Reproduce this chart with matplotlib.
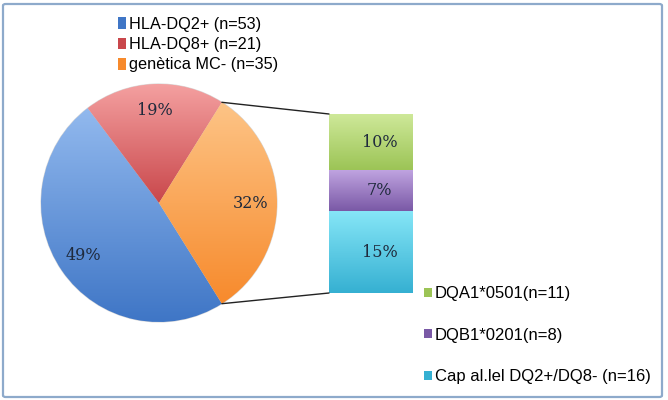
import numpy as np
import matplotlib
matplotlib.use('Agg')
import matplotlib.pyplot as plt
from matplotlib.patches import Patch, FancyBboxPatch, ConnectionPatch
from matplotlib.colors import to_rgb

# dades
pie_labels = ['HLA-DQ2+ (n=53)', 'HLA-DQ8+ (n=21)', 'genètica MC- (n=35)']
pie_n = [53, 21, 35]
bar_labels = ['DQA1*0501(n=11)', 'DQB1*0201(n=8)', 'Cap al.lel DQ2+/DQ8- (n=16)']
bar_n = [11, 8, 16]

pie_colors = [('#92b9ee', '#3f76c6'), ('#f4a0a0', '#c9474b'), ('#fdc486', '#f78a2c')]
bar_colors = [('#cfe99a', '#9cc456'), ('#bfa3e0', '#7a59a6'), ('#86e6f7', '#35b0d2')]

total = sum(pie_n)

plt.rcParams['font.family'] = ['Liberation Sans', 'DejaVu Sans']

fig = plt.figure(figsize=(6.68, 4.0), dpi=100)
W, H = 668, 400


def px_axes(x0, y0, x1, y1):
    # posicio en pixels (origen a dalt)
    return fig.add_axes([x0 / W, 1 - y1 / H, (x1 - x0) / W, (y1 - y0) / H])


def gradient(ax, patch, top, bottom, ext):
    t = np.linspace(0, 1, 128)[:, None]
    c0, c1 = np.array(to_rgb(top)), np.array(to_rgb(bottom))
    img = (c0 * (1 - t) + c1 * t)[:, None, :]
    im = ax.imshow(img, extent=ext, origin='upper', aspect='auto',
                   interpolation='bilinear', zorder=patch.get_zorder() + 0.1)
    im.set_clip_path(patch)


# marc
fig.patches.append(FancyBboxPatch((3 / W, 3 / H), 659 / W, 393 / H,
                                  boxstyle='round,pad=0,rounding_size=0.004',
                                  transform=fig.transFigure, fill=False,
                                  edgecolor='#8eaacb', linewidth=1.6))

# pastis
ax = px_axes(159 - 118, 203 - 119, 159 + 118, 203 + 119)
start = -pie_n[2] / total * 180
wedges, texts, autotexts = ax.pie(pie_n, colors=[c[0] for c in pie_colors],
                                  startangle=start, counterclock=False,
                                  autopct='%.0f%%', pctdistance=0.78,
                                  wedgeprops=dict(edgecolor='#d8d8d8', linewidth=0.8))
for w, (c0, c1) in zip(wedges, pie_colors):
    b = w.get_path().get_extents()
    gradient(ax, w, c0, c1, (b.x0, b.x1, b.y0, b.y1))
for t in autotexts:
    t.set_family(['DejaVu Serif'])
    t.set_fontsize(11.5)
    t.set_color('#1f2a3c')
    t.set_zorder(5)
ax.set_xlim(-1, 1)
ax.set_ylim(-1, 1)
ax.set_aspect('auto')
ax.axis('off')

# barra
bx = px_axes(329, 114, 413, 293)
bottom = 0
order = [2, 1, 0]
bar_pct = [n / total * 100 for n in bar_n]
for i in order:
    r = bx.bar(0, bar_pct[i], bottom=bottom, width=1, color=bar_colors[i][0])[0]
    gradient(bx, r, bar_colors[i][0], bar_colors[i][1],
             (-0.5, 0.5, bottom, bottom + bar_pct[i]))
    bx.text(0.1, bottom + bar_pct[i] / 2, f'{bar_pct[i]:.0f}%', ha='center', va='center',
            family=['DejaVu Serif'], fontsize=11.5, color='#1f2a3c', zorder=5)
    bottom += bar_pct[i]
bx.set_xlim(-0.5, 0.5)
bx.set_ylim(0, bottom)
bx.axis('off')

# linies d'unio
ang_top = np.deg2rad(-start)
ang_bot = np.deg2rad(start)
for ang, yb in [(ang_top, bottom), (ang_bot, 0)]:
    con = ConnectionPatch(xyA=(np.cos(ang), np.sin(ang)), coordsA=ax.transData,
                          xyB=(-0.5, yb), coordsB=bx.transData,
                          color='#222222', linewidth=1.0)
    fig.add_artist(con)

# llegendes
h1 = [Patch(facecolor=c[1], edgecolor='none') for c in pie_colors]
fig.legend(h1, pie_labels, loc='upper left', bbox_to_anchor=(118 / W, 1 - 17 / H),
           frameon=False, fontsize=11.7, handlelength=0.5, handleheight=0.75,
           handletextpad=0.2, labelspacing=0.32, borderaxespad=0, borderpad=0)

h2 = [Patch(facecolor=c[1], edgecolor='none') for c in bar_colors]
fig.legend(h2, bar_labels, loc='upper left', bbox_to_anchor=(424 / W, 1 - 286 / H),
           frameon=False, fontsize=12, handlelength=0.45, handleheight=0.45,
           handletextpad=0.2, labelspacing=1.6, borderaxespad=0, borderpad=0)

fig.savefig('out.png', dpi=100)
